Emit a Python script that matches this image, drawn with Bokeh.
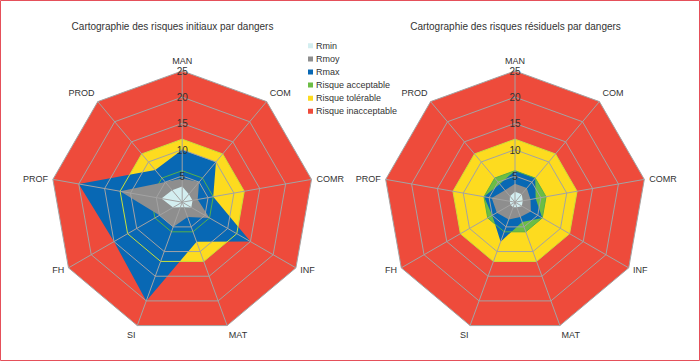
import numpy as np
from bokeh.plotting import figure
from bokeh.models import Range1d
from bokeh.core.properties import value
from bokeh.embed import file_html
from bokeh.resources import INLINE

# ---------------- data ----------------
categories = ["MAN", "COM", "COMR", "INF", "MAT", "SI", "FH", "PROF", "PROD"]
tick_values = [5, 10, 15, 20, 25]

risque_inacceptable = [25, 25, 25, 25, 25, 25, 25, 25, 25]
risque_tolerable = [12, 12, 12, 12, 12, 12, 12, 12, 12]
risque_acceptable = [6, 6, 6, 6, 6, 6, 6, 6, 6]

init_rmax = [10, 10, 6, 15, 8, 20, 15, 20, 8]
init_rmoy = [4.5, 5, 3, 6, 3, 5, 5, 12, 5]
init_rmin = [3, 2, 2, 2, 1, 1, 2, 4, 3]

res_rmax = [6, 6, 4, 6, 4, 8, 5, 6, 4.5]
res_rmoy = [3.5, 3.5, 3, 3.5, 3, 3.5, 4, 4.5, 3]
res_rmin = [2, 2, 1.5, 1.5, 1, 1, 1, 1, 1.5]

titles = ["Cartographie des risques initiaux par dangers",
          "Cartographie des risques résiduels par dangers"]
legend_labels = ["Rmin", "Rmoy", "Rmax", "Risque acceptable",
                 "Risque tolérable", "Risque inacceptable"]

# ---------------- style ----------------
C_RED = "#EE4B3B"
C_YEL = "#FDDB1F"
C_GRN = "#6CBD45"
C_BLU = "#0868B4"
C_GRY = "#8E8E8E"
C_LIG = "#D3EEF0"
C_GRID = "#A3A3A3"
C_TXT = "#333333"
legend_colors = [C_LIG, C_GRY, C_BLU, C_GRN, C_YEL, C_RED]
FONT = value("Liberation Sans")

W, H = 700, 361
RMAX_VAL = 25.0
R_PX = 131.3
K = R_PX / RMAX_VAL
centers = [(181.7, 201.7), (514.5, 201.7)]
title_pos = [(172.0, 26.0), (515.0, 26.0)]

p = figure(width=W, height=H, x_range=Range1d(0, W), y_range=Range1d(H, 0),
           output_backend="svg", toolbar_location=None, min_border=0)
p.axis.visible = False
p.grid.visible = False
p.outline_line_color = "#E5505A"
p.outline_line_width = 1
p.background_fill_color = "white"

n = len(categories)
ang = np.deg2rad(np.arange(n) * 360.0 / n)


def poly(cx, cy, vals):
    v = np.asarray(vals, dtype=float)
    return list(cx + v * K * np.sin(ang)), list(cy - v * K * np.cos(ang))


datasets = [(init_rmax, init_rmoy, init_rmin), (res_rmax, res_rmoy, res_rmin)]

for (cx, cy), (rmax, rmoy, rmin), title, (tx, ty) in zip(centers, datasets, titles, title_pos):
    # zones
    for vals, col in [(risque_inacceptable, C_RED), (risque_tolerable, C_YEL),
                      (risque_acceptable, C_GRN)]:
        xs, ys = poly(cx, cy, vals)
        p.patch(xs, ys, fill_color=col, line_color=None)
    xs, ys = poly(cx, cy, rmax)
    p.patch(xs, ys, fill_color=C_BLU, line_color=None)
    # zone outlines visible over Rmax
    for vals, col in [(risque_acceptable, "#55B04A"), (risque_tolerable, "#C8E03A")]:
        xs, ys = poly(cx, cy, vals)
        p.patch(xs, ys, fill_color=None, line_color=col, line_width=1)
    xs, ys = poly(cx, cy, rmoy)
    p.patch(xs, ys, fill_color=C_GRY, line_color=None)
    xs, ys = poly(cx, cy, rmin)
    p.patch(xs, ys, fill_color=C_LIG, line_color=None)
    # grid rings
    for t in tick_values:
        xs, ys = poly(cx, cy, [t] * n)
        p.patch(xs, ys, fill_color=None, line_color=C_GRID, line_width=1)
    # spokes
    ox, oy = poly(cx, cy, [RMAX_VAL] * n)
    p.segment(x0=[cx] * n, y0=[cy] * n, x1=ox, y1=oy, line_color=C_GRID, line_width=1)
    # tick labels
    p.text(x=[cx] * len(tick_values), y=[cy - t * K for t in tick_values],
           text=[str(t) for t in tick_values], text_font=FONT, text_font_size="10px",
           text_color=C_TXT, text_align="center", text_baseline="middle")
    # category labels
    for i, cat in enumerate(categories):
        s, c = np.sin(ang[i]), np.cos(ang[i])
        rr = R_PX + 5
        lx, ly = cx + rr * s, cy - rr * c
        align = "left" if s > 0.1 else ("right" if s < -0.1 else "center")
        if c > 0.55:
            base = "bottom"
        elif c < -0.55:
            base = "top"
        else:
            base = "middle"
        p.text(x=[lx], y=[ly], text=[cat], text_font=FONT, text_font_size="9px",
               text_color=C_TXT, text_align=align, text_baseline=base)
    # title
    p.text(x=[tx], y=[ty], text=[title], text_font=FONT, text_font_size="10px",
           text_color=C_TXT, text_align="center", text_baseline="middle")

# legend
lx0, ly0, dy = 310.0, 45.3, 13.1
ly = [ly0 + i * dy for i in range(len(legend_labels))]
p.rect(x=[lx0] * len(ly), y=ly, width=5, height=5, fill_color=legend_colors,
       line_color=None)
p.text(x=[lx0 + 5.5] * len(ly), y=ly, text=legend_labels, text_font=FONT,
       text_font_size="9px", text_color=C_TXT, text_align="left", text_baseline="middle")

open("out.html", "w").write(file_html(p, INLINE))
